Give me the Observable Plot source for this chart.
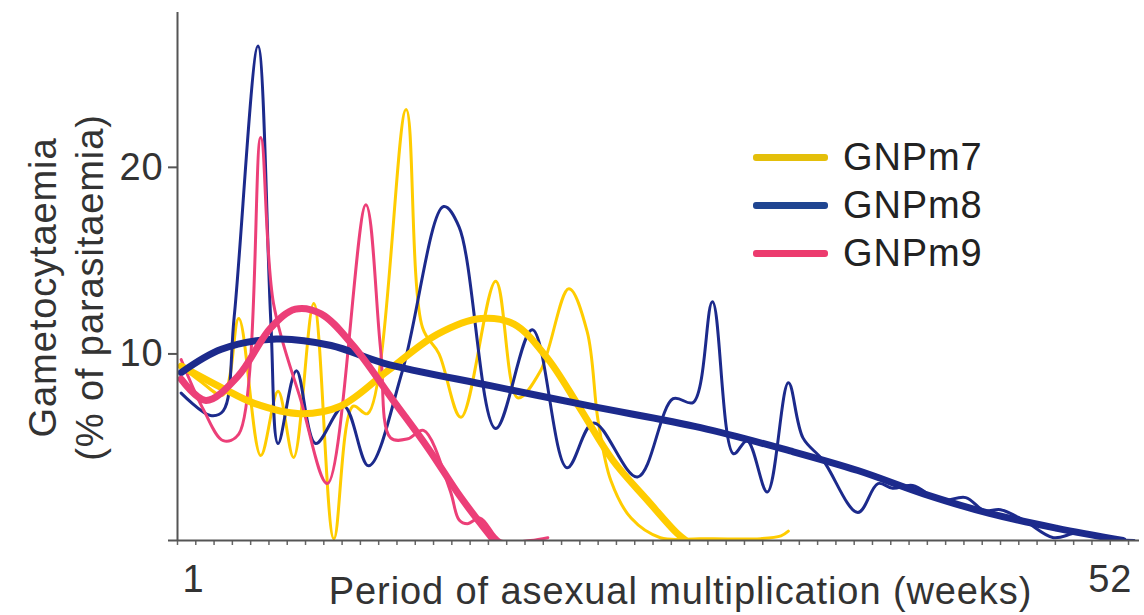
<!DOCTYPE html>
<html><head><meta charset="utf-8">
<script src="https://cdn.jsdelivr.net/npm/d3@7"></script>
<script src="https://cdn.jsdelivr.net/npm/@observablehq/plot@0.6"></script>
<style>
body{margin:0;background:#fff;font-family:"Liberation Sans",Arial,Helvetica,sans-serif;}
#wrap{position:relative;width:1144px;height:615px;overflow:hidden;}
#wrap svg text{letter-spacing:0.9px;}
#legend{position:absolute;left:753px;top:133px;}
.item{display:flex;align-items:center;height:48px;}
.swatch{width:75px;height:7px;border-radius:3px;margin-right:15px;}
.lab{font-size:38px;color:#222;line-height:48px;letter-spacing:0.9px;}
</style></head><body><div id="wrap"><div id="legend"></div></div>
<script>
// Raw weekly gametocytaemia curves (week, % of parasitaemia)
const w7 = [1.2, 2.3, 3.5, 4.35, 5.55, 6.5, 7.35, 8.45, 9.55, 10.6, 11.4, 13.5, 14.4, 15.3, 16.5, 18.4, 19.6, 20.85, 22.4, 23.4, 24.0, 24.7, 25.8, 27.4, 29.6, 32.9, 34.0, 34.4];
const v7 = [9.35, 8.5, 7.8, 11.9, 4.55, 8.0, 4.45, 12.7, 0.1, 7.2, 6.8, 23.1, 11.4, 10.0, 6.6, 13.9, 7.65, 9.1, 13.5, 11.2, 6.4, 3.2, 1.2, 0.15, 0.1, 0.1, 0.25, 0.5];

const w8 = [1.2, 2.8, 3.5, 4.1, 5.4, 6.1, 6.5, 7.5, 8.55, 10.1, 11.45, 13.3, 15.55, 16.4, 18.4, 20.4, 22.3, 23.75, 26.15, 28.1, 29.2, 30.25, 31.4, 32.15, 33.25, 34.4, 35.2, 36.3, 38.2, 39.3, 40.1, 41.2, 42.7, 44.1, 45.1, 46.0, 47.3, 48.9, 50.2, 51.85, 53.3];
const v8 = [7.9, 6.7, 6.95, 12.0, 26.5, 11.8, 5.2, 9.1, 5.2, 7.2, 4.0, 9.1, 17.9, 16.8, 6.0, 11.3, 3.9, 6.3, 3.4, 7.6, 7.4, 12.8, 4.65, 5.35, 2.6, 8.45, 5.5, 4.3, 1.5, 3.05, 2.8, 2.95, 2.15, 2.3, 1.6, 1.65, 1.07, 0.15, 0.4, 0.1, 0];

const w9 = [1.2, 2.45, 3.5, 4.35, 5.55, 6.25, 7.75, 9.2, 11.3, 12.1, 12.65, 13.6, 14.45, 15.9, 16.4, 16.85, 17.55, 18.65, 20.3, 21.25];
const v9 = [9.7, 6.95, 5.35, 5.7, 21.6, 12.7, 7.5, 3.05, 18.0, 10.3, 5.5, 5.45, 5.9, 2.7, 1.1, 0.9, 1.2, 0, 0, 0.15];

// Smoothed fits
const fitW7 = [1.2, 3.4, 5.2, 7.7, 9.9, 12.5, 15.2, 17.6, 19.4, 21.2, 23.0, 24.8, 26.7, 28.3, 28.8];
const fitV7 = [9.35, 8.2, 7.35, 6.8, 7.2, 9.1, 11.05, 11.9, 11.6, 9.8, 7.1, 4.3, 2.15, 0.4, 0];
const fitW8 = [1.2, 3.4, 6.4, 9.4, 12.3, 18.1, 23.6, 29.6, 34.5, 38.2, 41.8, 45.4, 49.1, 52.7];
const fitV8 = [9.0, 10.25, 10.8, 10.45, 9.5, 8.3, 7.2, 6.05, 4.8, 3.75, 2.5, 1.45, 0.65, 0];
const fitW9 = [1.2, 2.55, 4.3, 6.1, 7.45, 8.85, 10.6, 12.8, 14.7, 16.5, 18.3];
const fitV9 = [8.65, 7.5, 8.8, 11.4, 12.4, 12.15, 10.45, 7.5, 4.95, 2.3, 0];

const names = ["GNPm7", "GNPm8", "GNPm9"];
const lineColors = ["#FFCC00", "#1C2A8C", "#EC3F78"];
const legendColors = ["#E4BF0A", "#1F4591", "#EC3B6E"];
const xTickLabels = [1, 52];
const yTickLabels = [10, 20];

const rows = (w, v) => w.map((x, i) => ({w: x, v: v[i]}));
const raw = [rows(w7, v7), rows(w8, v8), rows(w9, v9)];
const fits = [rows(fitW7, fitV7), rows(fitW8, fitV8), rows(fitW9, fitV9)];

const font = '"Liberation Sans", Arial, Helvetica, sans-serif';
const chart = Plot.plot({
  width: 1144, height: 615,
  marginLeft: 177, marginRight: 5, marginTop: 12, marginBottom: 75,
  x: {domain: [1, 53.6]},
  y: {domain: [0, 28.3]},
  style: {fontFamily: font, background: "white", overflow: "visible"},
  marks: [
    ...raw.map((d, i) => Plot.line(d, {x: "w", y: "v", curve: "catmull-rom", stroke: lineColors[i], strokeWidth: 3, clip: true})),
    ...fits.map((d, i) => Plot.line(d, {x: "w", y: "v", curve: "catmull-rom", stroke: lineColors[i], strokeWidth: 7, strokeLinecap: "round", clip: true})),
    Plot.axisX({ticks: d3.range(1, 54), tickSize: 5, tickFormat: () => "", label: null, stroke: "#666", strokeWidth: 1.5}),
    Plot.axisX({ticks: [xTickLabels[0]], tickSize: 0, tickPadding: 25, dx: 16, fontSize: 38, fill: "#333", label: null, tickFormat: d => String(d)}),
    Plot.axisX({ticks: [xTickLabels[1]], tickSize: 0, tickPadding: 25, fontSize: 38, fill: "#333", label: null, tickFormat: d => String(d)}),
    Plot.axisY({ticks: [0, ...yTickLabels], tickSize: 9, tickPadding: 5, fontSize: 38, fill: "#333", stroke: "#555", strokeWidth: 2, label: null, tickFormat: d => d === 0 ? "" : String(d)}),
    Plot.ruleY([0], {stroke: "#555", strokeWidth: 2}),
    Plot.ruleX([1], {stroke: "#555", strokeWidth: 2}),
    Plot.text(["Period of asexual multiplication (weeks)"], {frameAnchor: "bottom", lineAnchor: "top", textAnchor: "middle", dy: 37, dx: 22, fontSize: 38, fill: "#333"}),
    Plot.text(["Gametocytaemia\n(% of parasitaemia)"], {frameAnchor: "left", textAnchor: "middle", rotate: -90, dx: -113, dy: 11, fontSize: 38, lineHeight: 1.22, fill: "#333"})
  ]
});
document.getElementById("wrap").prepend(chart);

const legend = document.getElementById("legend");
names.forEach((n, i) => {
  const it = document.createElement("div");
  it.className = "item";
  it.innerHTML = `<div class="swatch" style="background:${legendColors[i]}"></div><div class="lab">${n}</div>`;
  legend.appendChild(it);
});
</script></body></html>
